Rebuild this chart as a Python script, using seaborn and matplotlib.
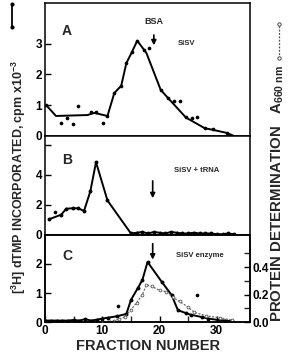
import matplotlib
matplotlib.use('Agg')
import matplotlib.pyplot as plt
import seaborn as sns
from matplotlib.lines import Line2D

sns.set_theme(style='ticks')
plt.rcParams['font.family'] = ['Liberation Sans', 'DejaVu Sans']
plt.rcParams['font.weight'] = 'bold'
plt.rcParams['mathtext.fontset'] = 'custom'
plt.rcParams['mathtext.rm'] = 'Liberation Sans:bold'
plt.rcParams['mathtext.bf'] = 'Liberation Sans:bold'
plt.rcParams['mathtext.it'] = 'Liberation Sans:bold'

# ---------------- data ----------------
# Panel A : SiSV  (cpm x 10^-3)
A_line_x = [0.2, 1.9, 7.4, 8.6, 10.9, 12.1, 13.3, 14.2, 15.2, 16.1, 17.7, 20.2, 21.4, 24.6, 27.9, 29.3, 31.7, 33.0]
A_line_y = [1.0, 0.65, 0.68, 0.75, 0.65, 1.4, 1.63, 2.37, 2.74, 3.1, 2.7, 1.5, 1.25, 0.6, 0.25, 0.2, 0.1, 0.0]
A_dot_x = [0.2, 2.8, 3.9, 4.9, 5.8, 8.0, 8.9, 10.2, 10.9, 12.1, 13.3, 14.2, 15.2, 16.1, 17.2, 18.2,
           20.2, 21.4, 22.5, 23.5, 24.6, 25.6, 26.5, 27.9, 29.3, 31.7]
A_dot_y = [1.0, 0.42, 0.58, 0.38, 0.98, 0.77, 0.77, 0.42, 0.65, 1.4, 1.63, 2.37, 2.74, 3.1, 2.8, 2.85,
           1.5, 1.22, 1.15, 1.15, 0.62, 0.58, 0.62, 0.25, 0.22, 0.1]

# Panel B : SiSV + tRNA
B_x = [0.7, 2.8, 3.7, 4.8, 5.8, 6.8, 7.9, 8.9, 10.9, 15.0, 16.0, 17.0, 18.0, 19.0, 20.0, 21.0, 22.0,
       23.0, 24.0, 25.0, 26.0, 27.0, 28.0, 29.0, 30.0, 31.0, 32.0, 33.0]
B_y = [1.05, 1.35, 1.75, 1.78, 1.78, 1.6, 2.9, 4.85, 2.3, 0.1, 0.15, 0.2, 0.1, 0.2, 0.15, 0.1, 0.2,
       0.15, 0.1, 0.1, 0.15, 0.1, 0.1, 0.1, 0.05, 0.05, 0.1, 0.05]
B_dot_x = [1.8]
B_dot_y = [1.5]

# Panel C : SiSV enzyme
C_x = [0, 1, 2, 3, 4, 5, 6, 7, 8, 9, 10, 11, 12.6, 14.2, 15.0, 16.2, 17.0, 17.9, 20.4, 22.1, 23.2,
       24.7, 25.5, 27.4, 28.5, 30.2, 31.5, 32.6]
C_y = [0.05, 0.05, 0.05, 0.05, 0.05, 0.07, 0.05, 0.1, 0.05, 0.08, 0.12, 0.15, 0.2, 0.28, 0.76, 1.17,
       1.45, 2.07, 1.38, 0.93, 0.41, 0.3, 0.25, 0.17, 0.12, 0.07, 0.05, 0.03]
C_dot_x = [12.8, 26.5]
C_dot_y = [0.55, 0.93]

# Protein determination (A660 nm)
P_x = [10, 12, 13, 14, 15, 16, 17, 17.7, 18.6, 20, 21.2, 22.3, 23.5, 24.9, 26.1, 28.2, 30.5, 32.6]
P_y = [0.0, 0.01, 0.02, 0.04, 0.09, 0.14, 0.2, 0.27, 0.26, 0.23, 0.22, 0.18, 0.15, 0.11, 0.07,
       0.045, 0.03, 0.015]

x_ticks = [0, 10, 20, 30]
x_minor = [5, 15, 25]
A_ticks = [0, 1, 2, 3]
B_ticks = [0, 2, 4, 6]
B_ticklabels = ['0', '2', '4', '']
C_ticks = [0, 1, 2]
P_ticks = [0.0, 0.2, 0.4]
P_ticklabels = ['0.0', '0.2', '0.4']
P_minor = [0.1, 0.3, 0.5]

# ---------------- figure ----------------
fig = plt.figure(figsize=(2.89, 3.61), dpi=100)
gs = fig.add_gridspec(3, 1, height_ratios=[133, 99, 87], hspace=0,
                      left=0.156, right=0.865, top=0.992, bottom=0.108)
axA = fig.add_subplot(gs[0])
axB = fig.add_subplot(gs[1], sharex=axA)
axC = fig.add_subplot(gs[2], sharex=axA)

lw = 1.4
tfs = 8.5

# A
sns.lineplot(x=A_line_x, y=A_line_y, ax=axA, color='black', lw=lw, sort=False, estimator=None)
sns.scatterplot(x=A_dot_x, y=A_dot_y, ax=axA, color='black', s=7, linewidth=0, zorder=3)
axA.set_ylim(0, 4.33)
axA.set_yticks(A_ticks)
axA.text(3.7, 3.4, 'A', fontsize=10, fontweight='bold', ha='center', va='center')
axA.text(24.7, 3.0, 'SiSV', fontsize=5.5, fontweight='bold', ha='center', va='center')
axA.annotate('BSA', xy=(19.0, 2.95), xytext=(19.0, 3.72), ha='center', va='center',
             fontsize=6.5, fontweight='bold',
             arrowprops=dict(arrowstyle='-|>', color='black', lw=1.2, mutation_scale=7, shrinkA=4, shrinkB=0))

# B
sns.lineplot(x=B_x, y=B_y, ax=axB, color='black', lw=lw, marker='o', markersize=2.8,
             markeredgewidth=0, sort=False, estimator=None)
sns.scatterplot(x=B_dot_x, y=B_dot_y, ax=axB, color='black', s=7, linewidth=0, zorder=3)
axB.set_ylim(0, 6.6)
axB.set_yticks(B_ticks)
axB.set_yticklabels(B_ticklabels)
axB.text(3.9, 5.0, 'B', fontsize=10, fontweight='bold', ha='center', va='center')
axB.text(26.5, 4.3, 'SiSV + tRNA', fontsize=5.5, fontweight='bold', ha='center', va='center')
axB.annotate('', xy=(18.8, 2.45), xytext=(18.8, 3.6),
             arrowprops=dict(arrowstyle='-|>', color='black', lw=1.2, mutation_scale=7, shrinkA=0, shrinkB=0))

# C
sns.lineplot(x=C_x, y=C_y, ax=axC, color='black', lw=lw, marker='o', markersize=2.8,
             markeredgewidth=0, sort=False, estimator=None, zorder=3)
sns.scatterplot(x=C_dot_x, y=C_dot_y, ax=axC, color='black', s=7, linewidth=0, zorder=3)
axC.set_ylim(0, 3.0)
axC.set_yticks(C_ticks)
axC.text(3.9, 2.28, 'C', fontsize=10, fontweight='bold', ha='center', va='center')
axC.text(27.0, 2.3, 'SiSV enzyme', fontsize=5.5, fontweight='bold', ha='center', va='center')
axC.annotate('', xy=(18.8, 2.15), xytext=(18.8, 2.7),
             arrowprops=dict(arrowstyle='-|>', color='black', lw=1.2, mutation_scale=7, shrinkA=0, shrinkB=0))

axP = axC.twinx()
sns.lineplot(x=P_x, y=P_y, ax=axP, color='0.4', lw=0.9, linestyle=(0, (1.6, 1.2)), marker='o',
             markersize=2.0, markerfacecolor='white', markeredgecolor='0.35', markeredgewidth=0.6,
             sort=False, estimator=None)
axP.set_ylim(0, 0.633)
axP.set_yticks(P_ticks)
axP.set_yticklabels(P_ticklabels)
axP.set_yticks(P_minor, minor=True)
axP.set_ylabel('')

axC.set_xlim(0, 35.8)
axC.set_xticks(x_ticks)
axC.set_xticks(x_minor, minor=True)

for ax in (axA, axB, axC, axP):
    for sp in ax.spines.values():
        sp.set_visible(True)
        sp.set_linewidth(1.1)
        sp.set_color('black')
    ax.tick_params(direction='in', length=4.5, width=1.0, labelsize=tfs, colors='black', pad=2)
    ax.tick_params(which='minor', direction='in', length=4.5, width=1.0)
    for lab in ax.get_yticklabels() + ax.get_xticklabels():
        lab.set_fontweight('bold')

for ax in (axA, axB):
    ax.tick_params(axis='x', which='both', bottom=False, labelbottom=False)
for ax in (axA, axB, axC):
    ax.tick_params(axis='y', which='both', right=False)
axC.tick_params(axis='x', which='both', top=False)

# axis labels
fig.text(19 / 289, 1 - 177 / 361, r'[$^{3}$H] dTMP INCORPORATED, cpm x10$^{-3}$', rotation=90,
         ha='center', va='center', fontsize=9, fontweight='bold')
fig.text(148 / 289, 1 - 346 / 361, 'FRACTION NUMBER', ha='center', va='center',
         fontsize=10.5, fontweight='bold')
fig.text(278 / 289, 1 - 193 / 361, r'PROTEIN DETERMINATION   A$_{660\ \mathrm{nm}}$', rotation=90,
         ha='center', va='center', fontsize=10.8, fontweight='bold')

# legend symbols next to labels
fig.add_artist(Line2D([12 / 289, 12 / 289], [1 - 27 / 361, 1 - 4 / 361], transform=fig.transFigure,
                      color='black', lw=1.3, marker='o', markersize=3, markeredgewidth=0))
fig.add_artist(Line2D([279 / 289, 279 / 289], [1 - 58 / 361, 1 - 24 / 361], transform=fig.transFigure,
                      color='0.3', lw=0.9, linestyle=(0, (1.5, 1.2)), marker='o', markersize=2.4,
                      markerfacecolor='white', markeredgecolor='0.3', markeredgewidth=0.7))

fig.savefig('out.png', dpi=100)
